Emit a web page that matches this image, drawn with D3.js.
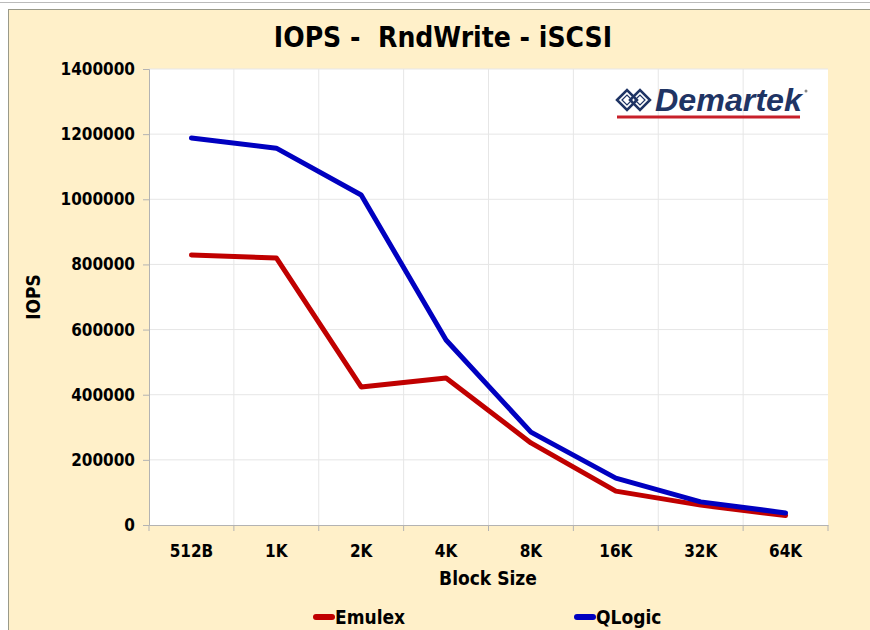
<!DOCTYPE html>
<html>
<head>
<meta charset="utf-8">
<script src="https://cdn.jsdelivr.net/npm/d3@7"></script>
<style>
  body { margin: 0; background: #fff; }
  text { font-family: "DejaVu Sans Condensed", "DejaVu Sans", sans-serif; font-weight: bold; fill: #000; }
</style>
</head>
<body>
<svg id="chart" width="870" height="630"></svg>
<script>
const blockSizes = ["512B", "1K", "2K", "4K", "8K", "16K", "32K", "64K"];
const emulex = [829000, 820000, 424000, 451000, 252000, 104000, 61000, 29000];
const qlogic = [1188000, 1157000, 1013000, 568000, 285000, 144000, 71000, 37000];
const yTicks = [0, 200000, 400000, 600000, 800000, 1000000, 1200000, 1400000];
const seriesNames = ["Emulex", "QLogic"];
const seriesColors = ["#C00000", "#0000C0"];

const svg = d3.select("#chart");
const margin = { left: 149, right: 828, top: 69, bottom: 525 };

// frame
svg.append("rect").attr("x", 8.5).attr("y", 9.5).attr("width", 870).attr("height", 630)
  .attr("fill", "#FFF0C9").attr("stroke", "#9a9a8a");
svg.append("line").attr("x1", 0).attr("x2", 870).attr("y1", 2.5).attr("y2", 2.5).attr("stroke", "#bbb");

svg.append("rect").attr("x", margin.left).attr("y", margin.top)
  .attr("width", margin.right - margin.left).attr("height", margin.bottom - margin.top)
  .attr("fill", "#fff");

const x = d3.scaleBand().domain(blockSizes).range([margin.left, margin.right]);
const y = d3.scaleLinear().domain([0, 1400000]).range([margin.bottom, margin.top]);

// gridlines
svg.append("g").selectAll("line").data(yTicks.slice(1)).enter().append("line")
  .attr("x1", margin.left).attr("x2", margin.right)
  .attr("y1", d => y(d)).attr("y2", d => y(d))
  .attr("stroke", "#e6e6e6");
svg.append("g").selectAll("line").data(blockSizes.slice(1)).enter().append("line")
  .attr("x1", d => x(d)).attr("x2", d => x(d))
  .attr("y1", margin.top).attr("y2", margin.bottom)
  .attr("stroke", "#e6e6e6");

// axes
const yAxis = d3.axisLeft(y).tickValues(yTicks).tickSize(6).tickPadding(8).tickFormat(d3.format("d"));
const gy = svg.append("g").attr("transform", `translate(${margin.left},0)`).call(yAxis);
gy.selectAll("text").style("font-size", "17px");

const gx = svg.append("g").attr("transform", `translate(0,${margin.bottom})`)
  .call(d3.axisBottom(x).tickSize(0).tickPadding(20));
gx.selectAll("text").style("font-size", "17px");
gx.selectAll(".tick line").remove();
gx.append("g").selectAll("line").data(blockSizes.slice(1).map(d => x(d)).concat([margin.left, margin.right]))
  .enter().append("line")
  .attr("x1", d => d).attr("x2", d => d).attr("y1", 0).attr("y2", 6);

[gx, gy].forEach(g => {
  g.selectAll("path, line").attr("stroke", "#b3b3b3");
});

// lines
const line = d3.line().x((d, i) => x(blockSizes[i]) + x.bandwidth() / 2).y(d => y(d));
[emulex, qlogic].forEach((vals, k) => {
  svg.append("path").datum(vals).attr("d", line)
    .attr("fill", "none").attr("stroke", seriesColors[k])
    .attr("stroke-width", 5).attr("stroke-linejoin", "round").attr("stroke-linecap", "round");
});

// titles
svg.append("text").attr("x", 443).attr("y", 47).attr("text-anchor", "middle")
  .style("font-size", "28px").text("IOPS -  RndWrite - iSCSI").attr("xml:space", "preserve");
svg.append("text").attr("x", 488).attr("y", 585).attr("text-anchor", "middle")
  .style("font-size", "19px").text("Block Size");
svg.append("text").attr("transform", "translate(40,297) rotate(-90)").attr("text-anchor", "middle")
  .style("font-size", "19px").text("IOPS");

// legend
const legendX = [316, 577];
seriesNames.forEach((name, k) => {
  svg.append("line").attr("x1", legendX[k]).attr("x2", legendX[k] + 16)
    .attr("y1", 617).attr("y2", 617).attr("stroke", seriesColors[k]).attr("stroke-width", 6)
    .attr("stroke-linecap", "round");
  svg.append("text").attr("x", legendX[k] + 19).attr("y", 624)
    .style("font-size", "19px").text(name);
});

// Demartek logo
const logo = svg.append("g").attr("transform", "translate(617,100)");
[[0, 0], [13, 0]].forEach(([dx]) => {
  logo.append("path").attr("d", `M${dx},0 L${dx + 10},-10 L${dx + 20},0 L${dx + 10},10 Z`)
    .attr("fill", "none").attr("stroke", "#1F3464").attr("stroke-width", 2.5);
  logo.append("path").attr("d", `M${dx + 5},0 L${dx + 10},-5 L${dx + 15},0 L${dx + 10},5 Z`)
    .attr("fill", "none").attr("stroke", "#1F3464").attr("stroke-width", 1.2);
});
logo.append("text").attr("x", 38).attr("y", 11)
  .style("font-family", "'Liberation Sans', Arial, sans-serif").style("font-style", "italic")
  .style("font-weight", "bold").style("font-size", "31px").style("fill", "#1F3464")
  .attr("textLength", 147).attr("lengthAdjust", "spacingAndGlyphs").text("Demartek");
logo.append("circle").attr("cx", 189).attr("cy", -9).attr("r", 1.5).attr("fill", "#888");
logo.append("line").attr("x1", 0).attr("x2", 183).attr("y1", 17).attr("y2", 17)
  .attr("stroke", "#C8202A").attr("stroke-width", 3);
</script>
</body>
</html>
